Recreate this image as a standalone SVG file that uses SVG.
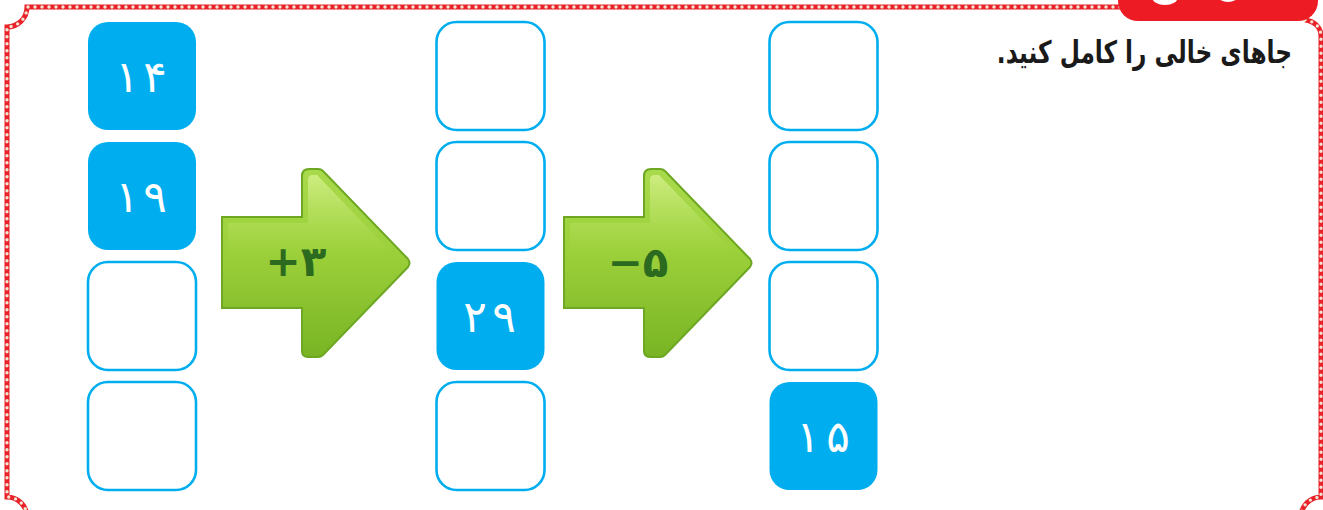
<svg xmlns="http://www.w3.org/2000/svg" width="1323" height="510" viewBox="0 0 1323 510">
  <style>
    .bd-red { fill: none; stroke: #E92128; stroke-width: 5; }
    .bd-dot { fill: none; stroke: #F1E6D3; stroke-width: 3.4; stroke-dasharray: 0 7; stroke-linecap: round; }
    .filled { fill: #00AEEF; }
    .empty { fill: #FFFFFF; stroke: #00AEEF; stroke-width: 2.6; }
    .num { font-family: "DejaVu Sans", sans-serif; font-size: 44px; fill: #FFFFFF; text-anchor: middle; }
    .op { font-family: "DejaVu Sans", sans-serif; font-size: 42px; font-weight: bold; fill: #2C6B1F; text-anchor: middle; }
    .title { font-family: "DejaVu Sans", sans-serif; font-size: 31px; font-weight: bold; fill: #1A1A1A; }
  </style>
  <defs>
    <linearGradient id="arrowFill" x1="0" y1="0" x2="0" y2="1">
      <stop offset="0" stop-color="#A9DA4C"/>
      <stop offset="0.45" stop-color="#9CD03A"/>
      <stop offset="1" stop-color="#78B424"/>
    </linearGradient>
    <linearGradient id="shine" x1="0" y1="0" x2="0" y2="1">
      <stop offset="0" stop-color="#D4F08A" stop-opacity="0.85"/>
      <stop offset="1" stop-color="#B8E163" stop-opacity="0"/>
    </linearGradient>
    <g id="arrow">
      <path d="M0,49 H80 V8 Q80,1 87,1 H96 Q99,1 101,3 L186,91 Q189,95 186,99 L101,187 Q99,189 96,189 H86 Q80,189 80,183 V140 H0 Z" fill="url(#arrowFill)" stroke="#6EA722" stroke-width="2"/>
      <path d="M6,55 H86 V12 Q86,7 91,7 H95 L170,85 L6,85 Z" fill="url(#shine)"/>
    </g>
  </defs>

  <g id="border">
    <path class="bd-red" d="M1120,7 H27 A20 20 0 0 1 7 27 V497 A20 20 0 0 1 27 517"/>
    <path class="bd-dot" d="M1120,7 H27 A20 20 0 0 1 7 27 V497 A20 20 0 0 1 27 517"/>
    <path class="bd-red" d="M1305,20 C1314,21 1321,27 1321,36 V497 A20 20 0 0 0 1301 517"/>
    <path class="bd-dot" d="M1305,20 C1314,21 1321,27 1321,36 V497 A20 20 0 0 0 1301 517"/>
  </g>

  <g id="tab">
    <rect x="1118" y="-30" width="200" height="51" rx="20" fill="#ED1C24"/>
    <ellipse cx="1165" cy="-3" rx="13" ry="8" fill="#FFFFFF"/>
    <ellipse cx="1228" cy="-4" rx="10" ry="6" fill="#FFFFFF"/>
  </g>

  <g id="title">
    <text class="title" transform="translate(1292,63) scale(0.75,1)" x="0" y="0" direction="rtl" text-anchor="start">جاهای خالی را کامل کنید.</text>
  </g>

  <g id="col1">
    <g id="c1r1"><rect class="filled" x="88" y="22" width="108" height="108" rx="20"/><text class="num" y="92"><tspan x="127">۱</tspan><tspan x="155">۴</tspan></text></g>
    <g id="c1r2"><rect class="filled" x="88" y="142" width="108" height="108" rx="20"/><text class="num" y="212"><tspan x="127">۱</tspan><tspan x="155">۹</tspan></text></g>
    <g id="c1r3"><rect class="empty" x="88" y="262" width="108" height="108" rx="20"/></g>
    <g id="c1r4"><rect class="empty" x="88" y="382" width="108" height="108" rx="20"/></g>
  </g>

  <g id="col2">
    <g id="c2r1"><rect class="empty" x="436.5" y="22" width="108" height="108" rx="20"/></g>
    <g id="c2r2"><rect class="empty" x="436.5" y="142" width="108" height="108" rx="20"/></g>
    <g id="c2r3"><rect class="filled" x="436.5" y="262" width="108" height="108" rx="20"/><text class="num" y="332"><tspan x="475">۲</tspan><tspan x="504">۹</tspan></text></g>
    <g id="c2r4"><rect class="empty" x="436.5" y="382" width="108" height="108" rx="20"/></g>
  </g>

  <g id="col3">
    <g id="c3r1"><rect class="empty" x="769.5" y="22" width="108" height="108" rx="20"/></g>
    <g id="c3r2"><rect class="empty" x="769.5" y="142" width="108" height="108" rx="20"/></g>
    <g id="c3r3"><rect class="empty" x="769.5" y="262" width="108" height="108" rx="20"/></g>
    <g id="c3r4"><rect class="filled" x="769.5" y="382" width="108" height="108" rx="20"/><text class="num" y="452"><tspan x="808">۱</tspan><tspan x="838">۵</tspan></text></g>
  </g>

  <g id="connectors">
    <g id="arrow1">
      <use href="#arrow" x="222" y="168"/>
      <text class="op" x="296" y="276">+۳</text>
    </g>
    <g id="arrow2">
      <use href="#arrow" x="564" y="168"/>
      <text class="op" x="638" y="277">−۵</text>
    </g>
  </g>
</svg>
